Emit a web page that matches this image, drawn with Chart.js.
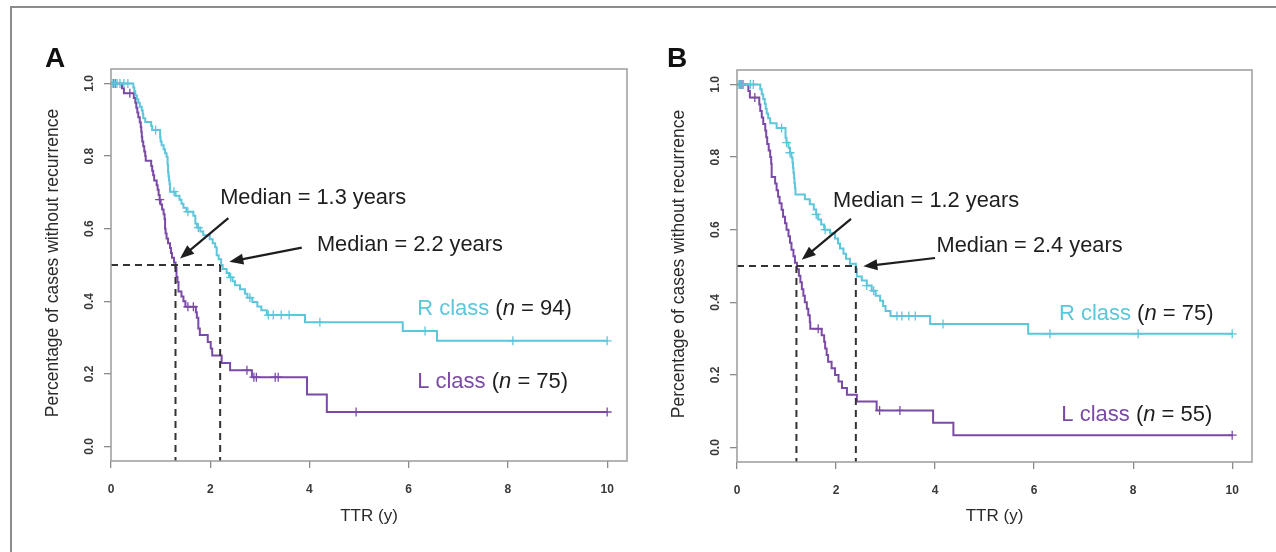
<!DOCTYPE html>
<html>
<head>
<meta charset="utf-8">
<script src="https://cdn.jsdelivr.net/npm/chart.js@4.4.1/dist/chart.umd.min.js"></script>
<style>
  html, body { margin: 0; padding: 0; background: #fff; overflow: hidden; }
  body { width: 1276px; height: 552px; position: relative; }
  .frame { position: absolute; left: 10px; top: 6px; width: 1300px; height: 600px; border: 2px solid #8c8c8c; }
  .panel { position: absolute; top: 0; width: 638px; height: 552px; }
</style>
</head>
<body>
<div class="frame"></div>
<div class="panel" style="left:0"><canvas id="chart_a"></canvas></div>
<div class="panel" style="left:638px"><canvas id="chart_b"></canvas></div>
<script>
// axis ticks
const xTicks = [0, 2, 4, 6, 8, 10];
const yTicks = [0, 0.2, 0.4, 0.6, 0.8, 1.0];

// Panel A, R class (n = 94)
const timeRA = [0.45, 0.47, 0.49, 0.52, 0.55, 0.58, 0.62, 0.64, 0.65, 0.69, 0.81, 0.83, 0.99, 1.00, 1.02,
  1.06, 1.09, 1.12, 1.14, 1.15, 1.16, 1.17, 1.18, 1.19, 1.30, 1.38, 1.42, 1.46, 1.52, 1.66,
  1.70, 1.73, 1.80, 1.86, 1.99, 2.05, 2.10, 2.13, 2.17, 2.22, 2.25, 2.33, 2.38, 2.45, 2.50,
  2.60, 2.70, 2.75, 2.85, 2.95, 3.03, 3.14, 3.91, 5.88, 6.57];
const survRA = [0.989, 0.979, 0.968, 0.957, 0.947, 0.936, 0.926, 0.915, 0.904, 0.894, 0.883, 0.872, 0.851, 0.840, 0.830,
  0.819, 0.808, 0.798, 0.776, 0.755, 0.744, 0.733, 0.723, 0.702, 0.691, 0.680, 0.669, 0.658, 0.647, 0.636,
  0.614, 0.603, 0.592, 0.582, 0.571, 0.560, 0.549, 0.527, 0.516, 0.500, 0.489, 0.478, 0.466, 0.455, 0.444,
  0.433, 0.421, 0.410, 0.398, 0.386, 0.375, 0.362, 0.342, 0.318, 0.291];
const censorRA = [0.04, 0.08, 0.12, 0.18, 0.26, 0.34, 0.9, 1.27, 1.55, 1.76, 2.41, 2.8, 3.17, 3.27, 3.43, 3.59, 4.21, 6.33, 8.1, 10.0];

// Panel A, L class (n = 75)
const timeLA = [0.22, 0.26, 0.46, 0.49, 0.51, 0.53, 0.55, 0.58, 0.60, 0.61, 0.62, 0.63, 0.65, 0.67, 0.69,
  0.70, 0.81, 0.83, 0.85, 0.87, 0.92, 0.94, 0.96, 0.98, 1.00, 1.03, 1.06, 1.08, 1.09, 1.10,
  1.12, 1.15, 1.19, 1.21, 1.23, 1.27, 1.30, 1.32, 1.34, 1.36, 1.42, 1.46, 1.50, 1.71, 1.73,
  1.76, 1.79, 1.95, 2.01, 2.04, 2.23, 2.40, 2.84, 3.95, 4.35];
const survLA = [0.987, 0.973, 0.960, 0.947, 0.933, 0.920, 0.907, 0.893, 0.880, 0.867, 0.853, 0.840, 0.827, 0.813, 0.800,
  0.787, 0.773, 0.760, 0.747, 0.733, 0.720, 0.707, 0.693, 0.680, 0.667, 0.653, 0.640, 0.627, 0.600, 0.587,
  0.573, 0.560, 0.547, 0.533, 0.520, 0.507, 0.493, 0.467, 0.453, 0.427, 0.413, 0.400, 0.385, 0.370, 0.355,
  0.325, 0.307, 0.288, 0.270, 0.251, 0.230, 0.210, 0.191, 0.143, 0.095];
const censorLA = [0.05, 0.09, 0.38, 0.98, 1.55, 1.66, 2.74, 2.88, 2.93, 3.31, 3.37, 4.94, 10.0];

// Panel B, R class (n = 75)
const timeRB = [0.47, 0.50, 0.53, 0.56, 0.58, 0.60, 0.63, 0.67, 0.80, 0.98, 1.00, 1.04, 1.07, 1.10, 1.12,
  1.13, 1.14, 1.15, 1.16, 1.17, 1.18, 1.37, 1.47, 1.55, 1.60, 1.64, 1.70, 1.76, 1.88, 1.98,
  2.04, 2.08, 2.15, 2.20, 2.28, 2.40, 2.42, 2.52, 2.62, 2.72, 2.80, 2.89, 2.95, 3.00, 3.10,
  3.90, 5.88];
const survRB = [0.987, 0.973, 0.960, 0.947, 0.933, 0.920, 0.907, 0.893, 0.880, 0.853, 0.840, 0.826, 0.812, 0.799, 0.785,
  0.771, 0.757, 0.743, 0.729, 0.715, 0.697, 0.684, 0.670, 0.656, 0.642, 0.628, 0.614, 0.600, 0.590, 0.576,
  0.562, 0.548, 0.534, 0.520, 0.506, 0.492, 0.471, 0.460, 0.446, 0.432, 0.418, 0.404, 0.390, 0.376, 0.362,
  0.340, 0.313];
const censorRB = [0.04, 0.08, 0.13, 0.27, 0.33, 0.9, 1.0, 1.07, 1.6, 1.78, 2.62, 2.76, 3.23, 3.33, 3.47, 3.6, 4.16, 6.32, 8.1, 10.0];

// Panel B, L class (n = 55)
const timeLB = [0.23, 0.26, 0.45, 0.47, 0.50, 0.53, 0.57, 0.59, 0.61, 0.64, 0.67, 0.69, 0.70, 0.77, 0.80,
  0.83, 0.86, 0.90, 0.93, 0.97, 1.00, 1.04, 1.07, 1.10, 1.14, 1.17, 1.21, 1.25, 1.28, 1.31,
  1.34, 1.37, 1.41, 1.44, 1.47, 1.48, 1.71, 1.76, 1.78, 1.81, 1.84, 1.91, 1.98, 2.05, 2.12,
  2.22, 2.42, 2.82, 3.96, 4.37];
const survLB = [0.982, 0.964, 0.945, 0.927, 0.909, 0.891, 0.873, 0.855, 0.836, 0.818, 0.800, 0.782, 0.745, 0.727, 0.709,
  0.691, 0.673, 0.655, 0.636, 0.618, 0.600, 0.582, 0.564, 0.545, 0.527, 0.509, 0.491, 0.473, 0.455, 0.436,
  0.418, 0.400, 0.382, 0.364, 0.345, 0.327, 0.309, 0.291, 0.273, 0.255, 0.236, 0.218, 0.200, 0.182, 0.164,
  0.145, 0.127, 0.102, 0.068, 0.034];
const censorLB = [0.06, 0.1, 0.36, 1.64, 2.88, 3.29, 10.0];

// medians (L class, R class) and group sizes (R, L)
const mediansA = [1.3, 2.2];
const mediansB = [1.2, 2.4];
const countsA = [94, 75];
const countsB = [75, 55];

const CYAN = "#5cc6da";
const PURPLE = "#7b4aa6";
const FONT = '"Liberation Sans", Arial, Helvetica, sans-serif';

function stepPoints(times, surv) {
  const pts = [{ x: 0, y: 1 }];
  times.forEach((t, i) => pts.push({ x: t, y: surv[i] }));
  pts.push({ x: 10, y: surv[surv.length - 1] });
  return pts;
}

function censorPoints(times, surv, censor) {
  return censor.map(c => {
    let s = 1;
    times.forEach((t, i) => { if (t <= c) s = surv[i]; });
    return { x: c, y: s };
  });
}

function drawArrow(ctx, x1, y1, x2, y2) {
  const ang = Math.atan2(y2 - y1, x2 - x1);
  const head = 14, half = 5.5;
  ctx.beginPath();
  ctx.moveTo(x1, y1);
  ctx.lineTo(x2 - Math.cos(ang) * head * 0.8, y2 - Math.sin(ang) * head * 0.8);
  ctx.stroke();
  ctx.beginPath();
  ctx.moveTo(x2, y2);
  ctx.lineTo(x2 - Math.cos(ang) * head + Math.sin(ang) * half, y2 - Math.sin(ang) * head - Math.cos(ang) * half);
  ctx.lineTo(x2 - Math.cos(ang) * head - Math.sin(ang) * half, y2 - Math.sin(ang) * head + Math.cos(ang) * half);
  ctx.closePath();
  ctx.fill();
}

function classLabel(ctx, x, y, name, color, n) {
  ctx.textAlign = "left";
  ctx.font = "22px " + FONT;
  ctx.fillStyle = color;
  ctx.fillText(name, x, y);
  x += ctx.measureText(name + " ").width;
  ctx.fillStyle = "#1e1e1e";
  ctx.fillText("(", x, y);
  x += ctx.measureText("(").width;
  ctx.font = "italic 22px " + FONT;
  ctx.fillText("n", x, y);
  x += ctx.measureText("n").width;
  ctx.font = "22px " + FONT;
  ctx.fillText(" = " + n + ")", x, y);
}

const decorPlugin = {
  id: "panelDecor",
  afterDraw(chart, args, opts) {
    const { ctx, chartArea: area } = chart;
    const xs = chart.scales.x, ys = chart.scales.y;
    const px = v => xs.getPixelForValue(v);
    const py = v => ys.getPixelForValue(v);
    ctx.save();

    // plot box
    ctx.strokeStyle = "#9c9c9c";
    ctx.lineWidth = 1.5;
    ctx.strokeRect(area.left, area.top, area.right - area.left, area.bottom - area.top);

    // y tick labels, parallel to the axis
    ctx.fillStyle = "#3a3a3a";
    ctx.font = "bold 12px " + FONT;
    ctx.textAlign = "center";
    ctx.textBaseline = "middle";
    yTicks.forEach(v => {
      ctx.save();
      ctx.translate(area.left - 21, py(v));
      ctx.rotate(-Math.PI / 2);
      ctx.fillText(v.toFixed(1), 0, 0);
      ctx.restore();
    });

    // axis titles
    ctx.fillStyle = "#2a2a2a";
    ctx.font = "17.5px " + FONT;
    ctx.save();
    ctx.translate(area.left - 58, (area.top + area.bottom) / 2 - 2);
    ctx.rotate(-Math.PI / 2);
    ctx.fillText("Percentage of cases without recurrence", 0, 0);
    ctx.restore();
    ctx.font = "17px " + FONT;
    ctx.fillText("TTR (y)", (area.left + area.right) / 2, 516);

    // panel letter
    ctx.fillStyle = "#111";
    ctx.font = "bold 28px " + FONT;
    ctx.textAlign = "left";
    ctx.textBaseline = "alphabetic";
    ctx.fillText(opts.letter, opts.letterX, 67);

    // median notes with arrows
    ctx.font = "21.8px " + FONT;
    ctx.fillStyle = "#1e1e1e";
    ctx.textBaseline = "middle";
    opts.notes.forEach(n => ctx.fillText(n.text, px(n.x), py(n.y)));
    ctx.strokeStyle = "#1e1e1e";
    ctx.lineWidth = 2.2;
    opts.arrows.forEach(a => drawArrow(ctx, px(a[0]), py(a[1]), px(a[2]), py(a[3])));

    // class labels
    classLabel(ctx, px(opts.rPos[0]), py(opts.rPos[1]), "R class", CYAN, opts.counts[0]);
    classLabel(ctx, px(opts.lPos[0]), py(opts.lPos[1]), "L class", PURPLE, opts.counts[1]);
    ctx.restore();
  }
};

function renderPanel(canvasId, p) {
  const dash = { borderColor: "#333", borderWidth: 2, borderDash: [7, 5], pointRadius: 0, fill: false };
  const ctx = document.getElementById(canvasId).getContext("2d");
  new Chart(ctx, {
    type: "line",
    data: {
      datasets: [
        { data: [{ x: 0, y: 0.5 }, { x: p.medians[1], y: 0.5 }], ...dash },
        { data: [{ x: p.medians[0], y: 0.5 }, { x: p.medians[0], y: -0.04 }], ...dash },
        { data: [{ x: p.medians[1], y: 0.5 }, { x: p.medians[1], y: -0.04 }], ...dash },
        { data: censorPoints(p.tR, p.sR, p.cR), showLine: false, pointStyle: "cross", pointRadius: 4.5,
          borderColor: CYAN, borderWidth: 1.3 },
        { data: censorPoints(p.tL, p.sL, p.cL), showLine: false, pointStyle: "cross", pointRadius: 4.5,
          borderColor: PURPLE, borderWidth: 1.3 },
        { data: stepPoints(p.tR, p.sR), stepped: "before", borderColor: CYAN, borderWidth: 2, pointRadius: 0 },
        { data: stepPoints(p.tL, p.sL), stepped: "before", borderColor: PURPLE, borderWidth: 2, pointRadius: 0 }
      ]
    },
    options: {
      responsive: true,
      maintainAspectRatio: false,
      animation: false,
      layout: { padding: p.padding },
      plugins: {
        legend: { display: false },
        tooltip: { enabled: false },
        panelDecor: p.decor
      },
      scales: {
        x: {
          type: "linear",
          min: 0,
          max: 10.4,
          afterBuildTicks: s => { s.ticks = xTicks.map(v => ({ value: v })); },
          afterFit: s => { s.height = p.xHeight; },
          border: { display: false },
          grid: { drawOnChartArea: false, drawTicks: true, tickLength: 7, color: "#8a8a8a", lineWidth: 1.3 },
          ticks: { color: "#3a3a3a", font: { family: FONT, size: 12, weight: "bold" }, padding: 14, maxRotation: 0 }
        },
        y: {
          type: "linear",
          min: -0.04,
          max: 1.04,
          afterBuildTicks: s => { s.ticks = yTicks.map(v => ({ value: v })); },
          afterFit: s => { s.width = p.yWidth; },
          border: { display: false },
          grid: { drawOnChartArea: false, drawTicks: true, tickLength: 7, color: "#8a8a8a", lineWidth: 1.3 },
          ticks: { display: false }
        }
      }
    },
    plugins: [decorPlugin]
  });
}

renderPanel("chart_a", {
  tR: timeRA, sR: survRA, cR: censorRA,
  tL: timeLA, sL: survLA, cL: censorLA,
  medians: mediansA,
  padding: { left: 0, top: 69, right: 11, bottom: 0 },
  yWidth: 111, xHeight: 91,
  decor: {
    letter: "A", letterX: 45, counts: countsA,
    notes: [
      { text: "Median = " + mediansA[0] + " years", x: 2.2, y: 0.684 },
      { text: "Median = " + mediansA[1] + " years", x: 4.15, y: 0.555 }
    ],
    arrows: [[2.365, 0.629, 1.391, 0.518], [3.845, 0.548, 2.385, 0.509]],
    rPos: [6.17, 0.378], lPos: [6.17, 0.177]
  }
});

renderPanel("chart_b", {
  tR: timeRB, sR: survRB, cR: censorRB,
  tL: timeLB, sL: survLB, cL: censorLB,
  medians: mediansB,
  padding: { left: 0, top: 70, right: 24, bottom: 0 },
  yWidth: 99, xHeight: 90,
  decor: {
    letter: "B", letterX: 29, counts: countsB,
    notes: [
      { text: "Median = " + mediansB[0] + " years", x: 1.94, y: 0.679 },
      { text: "Median = " + mediansB[1] + " years", x: 4.03, y: 0.554 }
    ],
    arrows: [[2.303, 0.63, 1.307, 0.517], [4.0, 0.522, 2.552, 0.499]],
    rPos: [6.5, 0.368], lPos: [6.55, 0.091]
  }
});
</script>
</body>
</html>
